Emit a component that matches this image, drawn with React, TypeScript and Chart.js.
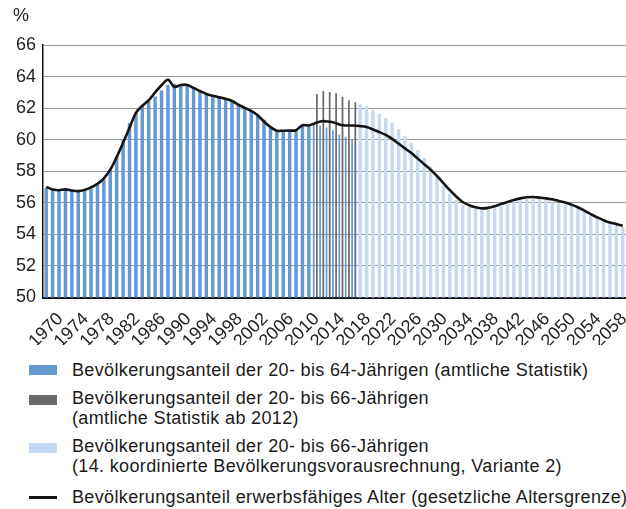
import React, { useEffect, useRef } from 'react';
import { Chart, registerables } from 'chart.js';

Chart.register(...registerables);

const years = [
  1970, 1971, 1972, 1973, 1974, 1975, 1976, 1977, 1978, 1979,
  1980, 1981, 1982, 1983, 1984, 1985, 1986, 1987, 1988, 1989,
  1990, 1991, 1992, 1993, 1994, 1995, 1996, 1997, 1998, 1999,
  2000, 2001, 2002, 2003, 2004, 2005, 2006, 2007, 2008, 2009,
  2010, 2011, 2012, 2013, 2014, 2015, 2016, 2017, 2018, 2019,
  2020, 2021, 2022, 2023, 2024, 2025, 2026, 2027, 2028, 2029,
  2030, 2031, 2032, 2033, 2034, 2035, 2036, 2037, 2038, 2039,
  2040, 2041, 2042, 2043, 2044, 2045, 2046, 2047, 2048, 2049,
  2050, 2051, 2052, 2053, 2054, 2055, 2056, 2057, 2058, 2059,
  2060,
];

const tickYears = [
  1970, 1974, 1978, 1982, 1986, 1990, 1994, 1998, 2002, 2006, 2010, 2014,
  2018, 2022, 2026, 2030, 2034, 2038, 2042, 2046, 2050, 2054, 2058,
];

const yTicks = [50, 52, 54, 56, 58, 60, 62, 64, 66];

// Bevölkerungsanteil der 20- bis 64-Jährigen (amtliche Statistik), 1970–2018
const share2064Years = [
  1970, 1971, 1972, 1973, 1974, 1975, 1976, 1977, 1978, 1979,
  1980, 1981, 1982, 1983, 1984, 1985, 1986, 1987, 1988, 1989,
  1990, 1991, 1992, 1993, 1994, 1995, 1996, 1997, 1998, 1999,
  2000, 2001, 2002, 2003, 2004, 2005, 2006, 2007, 2008, 2009,
  2010, 2011, 2012, 2013, 2014, 2015, 2016, 2017, 2018,
];
const share2064 = [
  56.94, 56.83, 56.79, 56.83, 56.77, 56.72, 56.79, 56.91, 57.15, 57.46,
  58.1, 58.98, 60.0, 61.05, 61.72, 62.15, 62.42, 62.73, 63.11, 63.47,
  63.55, 63.47, 63.41, 63.26, 63.09, 62.95, 62.8, 62.7, 62.61, 62.46,
  62.25, 62.06, 61.83, 61.58, 61.26, 60.84, 60.63, 60.57, 60.57, 60.55,
  60.9, 60.8, 60.95, 60.9, 60.77, 60.6, 60.33, 60.18, 60.03,
];

// Bevölkerungsanteil der 20- bis 66-Jährigen (amtliche Statistik ab 2012)
const share2066Years = [2012, 2013, 2014, 2015, 2016, 2017, 2018];
const share2066 = [62.89, 63.08, 63.02, 62.95, 62.72, 62.5, 62.38];

// 14. koordinierte Bevölkerungsvorausrechnung, Variante 2
const projYears = [
  2019, 2020, 2021, 2022, 2023, 2024, 2025, 2026, 2027, 2028,
  2029, 2030, 2031, 2032, 2033, 2034, 2035, 2036, 2037, 2038,
  2039, 2040, 2041, 2042, 2043, 2044, 2045, 2046, 2047, 2048,
  2049, 2050, 2051, 2052, 2053, 2054, 2055, 2056, 2057, 2058,
  2059, 2060,
];
const projection = [
  62.25, 62.1, 61.88, 61.62, 61.38, 61.07, 60.67, 60.22, 59.8, 59.33,
  58.84, 58.3, 57.6, 57.1, 56.57, 56.19, 55.9, 55.72, 55.62, 55.56,
  55.56, 55.66, 55.78, 55.9, 56.03, 56.16, 56.22, 56.24, 56.22, 56.16,
  56.11, 56.0, 55.9, 55.8, 55.67, 55.42, 55.2, 55.04, 54.89, 54.72,
  54.57, 54.46,
];

// Bevölkerungsanteil erwerbsfähiges Alter (gesetzliche Altersgrenze), 1970–2060
const workingAge = [
  57.0, 56.85, 56.8, 56.85, 56.78, 56.74, 56.82, 56.98, 57.2, 57.55,
  58.1, 58.9, 59.8, 60.75, 61.7, 62.15, 62.5, 63.0, 63.45, 63.8,
  63.35, 63.47, 63.47, 63.28, 63.08, 62.9, 62.78, 62.68, 62.6, 62.45,
  62.22, 62.02, 61.82, 61.55, 61.15, 60.8, 60.57, 60.57, 60.58, 60.6,
  60.92, 60.9, 61.05, 61.17, 61.15, 61.08, 60.93, 60.9, 60.9, 60.86,
  60.8, 60.65, 60.48, 60.3, 60.05, 59.75, 59.45, 59.15, 58.8, 58.45,
  58.1, 57.7, 57.25, 56.8, 56.4, 56.05, 55.85, 55.72, 55.65, 55.68,
  55.78, 55.92, 56.05, 56.18, 56.28, 56.35, 56.37, 56.33, 56.28, 56.22,
  56.12, 56.02, 55.88, 55.72, 55.5, 55.28, 55.08, 54.9, 54.75, 54.65,
  54.55,
];

const legendLabels = [
  ['Bevölkerungsanteil der 20- bis 64-Jährigen (amtliche Statistik)'],
  ['Bevölkerungsanteil der 20- bis 66-Jährigen', '(amtliche Statistik ab 2012)'],
  ['Bevölkerungsanteil der 20- bis 66-Jährigen', '(14. koordinierte Bevölkerungsvorausrechnung, Variante 2)'],
  ['Bevölkerungsanteil erwerbsfähiges Alter (gesetzliche Altersgrenze)'],
];

const COLORS = {
  blue: '#6699d0',
  gray: '#6a6a6a',
  light: '#c7d8f1',
  line: '#141414',
};

const FONT = '"Liberation Sans", Arial, Helvetica, sans-serif';

function alignTo(srcYears: number[], values: number[]) {
  return years.map((y) => {
    const i = srcYears.indexOf(y);
    return i >= 0 ? values[i] : null;
  });
}

export default function App() {
  const canvasRef = useRef<HTMLCanvasElement | null>(null);

  useEffect(() => {
    document.body.style.margin = '0';
    const canvas = canvasRef.current;
    if (!canvas) return;
    const chart = new Chart(canvas, {
      type: 'bar',
      data: {
        labels: years.map(String),
        datasets: [
          {
            type: 'line',
            label: legendLabels[3][0],
            data: workingAge,
            borderColor: COLORS.line,
            borderWidth: 2.6,
            pointRadius: 0,
            tension: 0.35,
            fill: false,
            order: 0,
          } as any,
          {
            label: legendLabels[0][0],
            data: alignTo(share2064Years, share2064),
            backgroundColor: COLORS.blue,
            order: 1,
          },
          {
            label: legendLabels[1].join(' '),
            data: alignTo(share2066Years, share2066),
            backgroundColor: COLORS.gray,
            order: 1,
          },
          {
            label: legendLabels[2].join(' '),
            data: alignTo(projYears, projection),
            backgroundColor: COLORS.light,
            order: 1,
          },
        ],
      },
      options: {
        animation: false,
        responsive: false,
        maintainAspectRatio: false,
        layout: { padding: { top: 45, left: 0, right: 0, bottom: 0 } },
        plugins: { legend: { display: false }, tooltip: { enabled: false } },
        datasets: {
          bar: { skipNull: true, categoryPercentage: 1, barPercentage: 0.54, grouped: true },
        } as any,
        scales: {
          x: {
            grid: { display: false, drawTicks: false },
            border: { color: '#111', width: 2 },
            ticks: {
              autoSkip: false,
              maxRotation: 45,
              minRotation: 45,
              labelOffset: 14,
              padding: 11,
              color: '#222',
              font: { family: FONT, size: 18 },
              callback: (_v: any, i: number) =>
                tickYears.includes(years[i]) ? String(years[i]) : '',
            },
            afterFit: (s: any) => {
              s.height = 47.5;
              s.paddingLeft = 0;
              s.paddingRight = 0;
            },
          },
          y: {
            min: yTicks[0],
            max: yTicks[yTicks.length - 1],
            afterBuildTicks: (s: any) => {
              s.ticks = yTicks.map((v) => ({ value: v }));
            },
            grid: { color: '#9a9a9a', lineWidth: 1, drawTicks: false },
            border: { color: '#111', width: 1.5 },
            ticks: {
              padding: 7,
              color: '#222',
              font: { family: FONT, size: 18 },
            },
            afterFit: (s: any) => {
              s.width = 43;
              s.paddingTop = 0;
              s.paddingBottom = 0;
            },
          },
        },
      },
    });
    return () => chart.destroy();
  }, []);

  const rows = [
    { top: 360, swatch: COLORS.blue, sTop: 365, sH: 10 },
    { top: 388, swatch: COLORS.gray, sTop: 395, sH: 10 },
    { top: 436, swatch: COLORS.light, sTop: 443, sH: 10 },
    { top: 487, swatch: COLORS.line, sTop: 496, sH: 3 },
  ];

  return (
    <div style={{ position: 'relative', width: 626, height: 509, background: '#fff', fontFamily: FONT }}>
      <canvas ref={canvasRef} width={626} height={345} style={{ display: 'block' }} />
      <div style={{ position: 'absolute', left: 13, top: 5, fontSize: 18, lineHeight: '20px', color: '#222' }}>%</div>
      {rows.map((r, i) => (
        <React.Fragment key={i}>
          <div style={{ position: 'absolute', left: 29, top: r.sTop, width: 28, height: r.sH, background: r.swatch }} />
          <div
            style={{
              position: 'absolute',
              left: 72,
              top: r.top,
              fontSize: 18,
              letterSpacing: '0.35px',
              lineHeight: '20px',
              color: '#1a1a1a',
              whiteSpace: 'nowrap',
            }}
          >
            {legendLabels[i].map((t, j) => (
              <div key={j}>{t}</div>
            ))}
          </div>
        </React.Fragment>
      ))}
    </div>
  );
}
